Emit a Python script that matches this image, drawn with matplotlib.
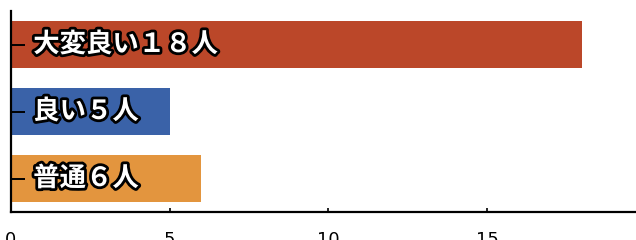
import matplotlib; matplotlib.use("Agg")
import matplotlib.pyplot as plt
import matplotlib.patheffects as pe

labels = ["大変良い", "良い", "普通"]
counts = [18, 5, 6]
colors = ["#BB4729", "#3A62A8", "#E3953E"]
xticks = [0, 5, 10, 15, 20]

plt.rcParams["font.family"] = ["DejaVu Sans"]

fig = plt.figure(figsize=(6.36, 2.4), dpi=100)
ax = fig.add_axes([11/636, 28/240, 634.7/636, 201/240])

pos = list(range(len(labels)))
ax.barh(pos, counts, height=0.71, color=colors)
ax.set_ylim(len(labels) - 0.5, -0.5)
ax.set_xlim(0, 20)
ax.set_xticks(xticks)
ax.set_yticks(pos)
ax.set_yticklabels([])

for i, (lab, n) in enumerate(zip(labels, counts)):
    full = str(n).translate(str.maketrans("0123456789", "０１２３４５６７８９"))
    ax.annotate(f"{lab}{full}人", (0, i), xytext=(16, 0), textcoords="offset points",
                va="center", ha="left", fontsize=19, fontweight="bold", color="white",
                family=["Noto Sans CJK JP", "DejaVu Sans"],
                path_effects=[pe.withStroke(linewidth=4, foreground="black")])

for s in ["top", "right"]:
    ax.spines[s].set_visible(False)
for s in ["left", "bottom"]:
    ax.spines[s].set_linewidth(1.6)
ax.tick_params(axis="y", direction="in", length=10, width=1.4)
ax.tick_params(axis="x", direction="in", length=3, width=1.2, pad=14, labelsize=13)

fig.savefig("out.png", dpi=100)
